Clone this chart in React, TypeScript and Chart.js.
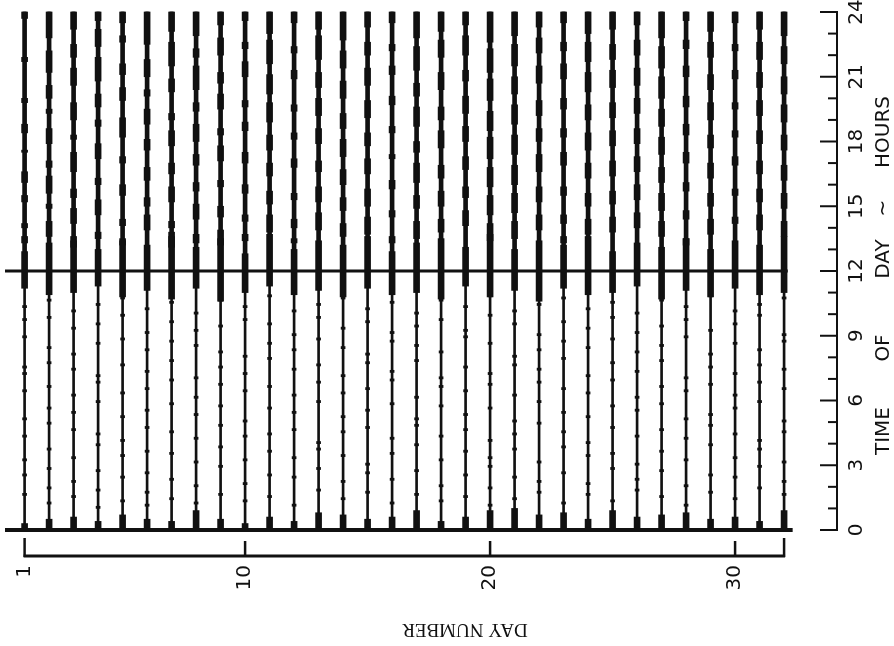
import React, { useEffect, useRef } from "react";
import { Chart, registerables } from "chart.js";

Chart.register(...registerables);

const INK = "#111111";

const dayNumbers = [1, 2, 3, 4, 5, 6, 7, 8, 9, 10, 11, 12, 13, 14, 15, 16, 17, 18, 19, 20, 21, 22, 23, 24, 25, 26, 27, 28, 29, 30, 31, 32];

const dayTickValues = [1, 10, 20, 30, 32];
const dayTickLabels = ["1", "10", "20", "30", ""];

const hourTicks = [0, 1, 2, 3, 4, 5, 6, 7, 8, 9, 10, 11, 12, 13, 14, 15, 16, 17, 18, 19, 20, 21, 22, 23, 24];
const hourLabelValues = [0, 3, 6, 9, 12, 15, 18, 21, 24];
const hourLabels = ["0", "3", "6", "9", "12", "15", "18", "21", "24"];

const xTitle = "DAY NUMBER";
const yTitleWords = ["TIME", "OF", "DAY", "~", "HOURS"];

// afternoon / evening activity bouts [start hour, end hour], one list per day
const upperBouts = [
  [[23.7, 24], [21.7, 21.9], [19.8, 20.0], [18.4, 18.8], [17.5, 17.6], [16.1, 16.6], [15.2, 15.5], [14.0, 14.2], [13.3, 13.6]],
  [[22.8, 24], [21.2, 22.2], [20.0, 20.6], [19.3, 19.5], [17.9, 18.6], [16.8, 17.1], [15.6, 16.4], [14.9, 15.1], [13.6, 14.3]],
  [[23.2, 24], [21.9, 22.5], [20.6, 21.4], [19.0, 19.8], [18.1, 18.3], [16.6, 17.5], [15.4, 15.8], [14.2, 14.9], [13.1, 13.4]],
  [[23.6, 24], [22.4, 23.2], [20.8, 21.9], [19.6, 20.2], [18.7, 19.0], [17.2, 17.9], [16.0, 16.3], [14.6, 15.3], [13.5, 13.8]],
  [[23.5, 24], [22.6, 22.9], [21.1, 21.6], [19.9, 20.5], [18.2, 19.1], [17.0, 17.3], [15.5, 16.0], [14.1, 14.4], [13.2, 13.5]],
  [[22.5, 24], [21.0, 21.8], [20.1, 20.4], [18.8, 19.5], [17.6, 18.1], [16.2, 16.8], [15.0, 15.4], [13.9, 14.6]],
  [[23.1, 24], [21.5, 22.6], [20.3, 20.9], [19.0, 19.3], [17.8, 18.5], [16.5, 17.0], [15.2, 15.9], [14.0, 14.3], [13.1, 13.6]],
  [[22.9, 24], [21.9, 22.3], [20.4, 21.5], [19.4, 19.8], [18.0, 18.8], [16.9, 17.4], [15.7, 16.1], [14.4, 15.1], [13.3, 13.7]],
  [[23.4, 24], [22.0, 22.8], [20.7, 21.2], [19.5, 20.2], [18.3, 18.6], [17.1, 17.8], [15.9, 16.2], [14.5, 15.0], [13.2, 13.9]],
  [[23.6, 24], [22.3, 22.6], [21.0, 21.7], [19.6, 19.9], [18.5, 18.9], [17.0, 17.5], [15.6, 16.0], [14.3, 14.6], [13.4, 13.7]],
  [[23.0, 24], [21.6, 22.7], [20.2, 21.1], [18.9, 19.8], [17.6, 18.3], [16.4, 17.0], [15.1, 15.7], [13.8, 14.6]],
  [[23.5, 24], [22.1, 22.4], [20.9, 21.3], [19.4, 19.7], [18.1, 18.4], [16.8, 17.2], [15.3, 15.6], [14.0, 14.4], [13.3, 13.5]],
  [[23.2, 24], [21.8, 22.9], [20.5, 21.2], [19.2, 20.0], [17.9, 18.6], [16.6, 17.1], [15.2, 15.9], [13.9, 14.7]],
  [[22.7, 24], [21.4, 22.2], [20.0, 20.8], [18.6, 19.3], [17.3, 18.1], [16.0, 16.7], [14.8, 15.4], [13.6, 14.2]],
  [[23.3, 24], [22.0, 22.6], [20.6, 21.4], [19.1, 19.9], [17.8, 18.4], [16.5, 17.2], [15.0, 15.8], [13.7, 14.5]],
  [[23.5, 24], [22.2, 22.5], [21.1, 21.5], [19.7, 20.1], [18.4, 18.7], [17.2, 17.4], [15.8, 16.2], [14.5, 14.8], [13.3, 13.6]],
  [[22.8, 24], [21.3, 22.4], [20.1, 20.7], [18.7, 19.6], [17.5, 18.0], [16.1, 17.0], [14.9, 15.5], [13.5, 14.3]],
  [[23.1, 24], [21.9, 22.7], [20.4, 21.2], [19.0, 19.6], [17.7, 18.5], [16.3, 16.9], [15.0, 15.7], [13.8, 14.4]],
  [[23.4, 24], [22.0, 22.9], [20.8, 21.3], [19.3, 20.1], [18.0, 18.7], [16.7, 17.3], [15.4, 15.9], [14.1, 14.8]],
  [[22.6, 24], [21.2, 22.3], [19.9, 20.9], [18.5, 19.4], [17.2, 18.2], [15.9, 16.8], [14.6, 15.5], [13.4, 14.2]],
  [[22.9, 24], [21.5, 22.5], [20.2, 21.0], [18.8, 19.7], [17.4, 18.3], [16.0, 16.9], [14.7, 15.6], [13.5, 14.3]],
  [[23.3, 24], [22.1, 22.8], [20.7, 21.5], [19.2, 19.9], [18.0, 18.6], [16.6, 17.4], [15.2, 15.9], [13.9, 14.6]],
  [[23.5, 24], [22.2, 22.6], [20.9, 21.6], [19.5, 20.0], [18.2, 18.6], [16.9, 17.5], [15.5, 15.9], [14.2, 14.6], [13.3, 13.6]],
  [[23.0, 24], [21.7, 22.6], [20.3, 21.2], [19.0, 19.7], [17.6, 18.4], [16.3, 17.0], [15.0, 15.6], [13.7, 14.4]],
  [[23.2, 24], [21.8, 22.5], [20.5, 21.3], [19.1, 19.8], [17.8, 18.5], [16.4, 17.1], [15.1, 15.7], [13.8, 14.5]],
  [[23.4, 24], [22.0, 22.7], [20.6, 21.4], [19.3, 20.0], [17.9, 18.6], [16.6, 17.3], [15.3, 16.0], [14.0, 14.7]],
  [[22.8, 24], [21.4, 22.4], [20.0, 21.0], [18.7, 19.5], [17.4, 18.2], [16.1, 16.8], [14.8, 15.6], [13.6, 14.3]],
  [[23.6, 24], [22.3, 22.7], [21.0, 21.5], [19.6, 20.1], [18.3, 18.8], [17.0, 17.5], [15.7, 16.1], [14.4, 14.8], [13.2, 13.5]],
  [[23.1, 24], [21.9, 22.6], [20.4, 21.1], [19.0, 19.8], [17.7, 18.3], [16.3, 17.0], [15.0, 15.6], [13.7, 14.4]],
  [[23.5, 24], [22.2, 22.5], [20.9, 21.3], [19.5, 19.8], [18.2, 18.5], [16.9, 17.3], [15.5, 15.8], [14.2, 14.5]],
  [[23.2, 24], [21.8, 22.6], [20.5, 21.2], [19.2, 19.9], [17.9, 18.5], [16.5, 17.1], [15.2, 15.8], [13.9, 14.6]],
  [[22.9, 24], [21.6, 22.4], [20.2, 21.0], [18.9, 19.7], [17.6, 18.3], [16.2, 16.9], [14.9, 15.6], [13.6, 14.3]],
];

// mid-day activity bout [start, end], one per day
const noonBouts = [
  [11.2, 12.9], [10.9, 13.3], [11.0, 13.6], [11.3, 13.0], [10.8, 13.4], [11.1, 13.2], [10.7, 13.8], [11.2, 13.1],
  [10.6, 13.5], [11.0, 12.8], [11.3, 13.7], [10.9, 13.0], [11.1, 13.4], [10.8, 13.2], [11.2, 13.6], [10.9, 12.9],
  [11.0, 13.3], [10.7, 13.5], [11.3, 13.1], [10.8, 13.7], [11.1, 13.0], [10.6, 13.4], [11.2, 13.2], [10.9, 13.6],
  [11.0, 12.9], [11.3, 13.3], [10.7, 13.1], [11.1, 13.5], [10.8, 13.0], [11.2, 13.4], [10.9, 13.2], [11.0, 13.6],
];

// end of the burst just after midnight, per day
const midnightEnds = [0.3, 0.5, 0.6, 0.4, 0.7, 0.5, 0.4, 0.9, 0.5, 0.3, 0.6, 0.4, 0.8, 0.7, 0.5, 0.6, 0.9, 0.4, 0.6, 0.9, 1.0, 0.7, 0.8, 0.5, 0.9, 0.6, 0.7, 0.8, 0.5, 0.6, 0.4, 0.9];

// scattered brief movements in the early hours, per day
const lowerTicks = [
  [10.3, 9.7, 8.9, 7.2, 7.5, 6.4, 5.1, 4.3, 3.2, 2.5, 1.6],
  [10.6, 9.8, 8.4, 7.7, 6.6, 5.6, 4.9, 3.7, 2.8, 1.9, 1.2],
  [10.1, 9.3, 8.1, 7.4, 6.2, 5.4, 4.6, 3.3, 2.2, 1.5],
  [10.4, 9.5, 8.6, 7.1, 6.8, 5.9, 4.4, 3.9, 2.7, 1.8, 1.0],
  [10.7, 9.9, 8.8, 7.6, 6.3, 5.2, 4.1, 3.4, 2.4, 1.3],
  [10.2, 9.1, 8.3, 7.3, 6.5, 5.5, 4.7, 3.6, 2.6, 1.7, 1.1],
  [10.5, 9.6, 8.7, 7.8, 6.9, 5.8, 4.5, 3.5, 2.3, 1.4],
  [10.0, 9.2, 8.5, 7.0, 6.1, 5.3, 4.2, 3.1, 2.0, 1.2],
  [10.6, 9.4, 8.2, 7.5, 6.7, 5.7, 4.8, 3.8, 2.9, 1.6],
  [10.3, 9.7, 8.0, 7.2, 6.4, 5.0, 4.3, 3.2, 2.1, 1.3],
  [10.8, 9.5, 8.6, 7.9, 6.6, 5.6, 4.4, 3.6, 2.5, 1.5],
  [10.1, 9.0, 8.3, 7.4, 6.2, 5.4, 4.6, 3.3, 2.4, 1.1],
  [10.4, 9.8, 8.8, 7.6, 6.8, 5.9, 4.0, 3.7, 2.8, 1.8],
  [10.7, 9.3, 8.4, 7.1, 6.3, 5.2, 4.5, 3.4, 2.2, 1.4],
  [10.2, 9.6, 8.1, 7.7, 6.5, 5.5, 4.7, 3.0, 2.6, 1.7],
  [10.5, 9.1, 8.7, 7.3, 6.9, 5.8, 4.2, 3.5, 2.3, 1.2],
  [10.0, 9.4, 8.5, 7.8, 6.1, 5.1, 4.8, 3.9, 2.7, 1.6],
  [10.6, 9.7, 8.2, 7.0, 6.6, 5.7, 4.3, 3.2, 2.0, 1.3],
  [10.3, 9.2, 8.9, 7.5, 6.4, 5.3, 4.6, 3.6, 2.5, 1.5],
  [10.8, 9.9, 8.6, 7.2, 6.7, 5.6, 4.1, 3.3, 2.9, 1.9, 1.1],
  [10.1, 9.5, 8.0, 7.6, 6.2, 5.0, 4.4, 3.7, 2.4, 1.4],
  [10.4, 9.0, 8.3, 7.4, 6.8, 5.9, 4.9, 3.1, 2.2, 1.7],
  [10.7, 9.6, 8.7, 7.9, 6.5, 5.4, 4.5, 3.8, 2.6, 1.2],
  [10.2, 9.3, 8.4, 7.1, 6.3, 5.2, 4.0, 3.4, 2.1, 1.6],
  [10.5, 9.8, 8.8, 7.7, 6.9, 5.7, 4.7, 3.5, 2.8, 1.3],
  [10.0, 9.1, 8.2, 7.3, 6.1, 5.5, 4.3, 3.0, 2.3, 1.8],
  [10.6, 9.4, 8.5, 7.8, 6.6, 5.8, 4.6, 3.6, 2.7, 1.5],
  [10.3, 9.7, 8.9, 7.0, 6.4, 5.1, 4.2, 3.2, 2.0, 1.1],
  [10.8, 9.2, 8.1, 7.5, 6.7, 5.3, 4.8, 3.9, 2.5, 1.7],
  [10.1, 9.5, 8.6, 7.2, 6.2, 5.6, 4.4, 3.3, 2.4, 1.4],
  [10.4, 9.9, 8.3, 7.6, 6.8, 5.9, 4.1, 3.7, 2.9, 1.9],
  [10.7, 9.0, 8.7, 7.4, 6.5, 5.0, 4.5, 3.1, 2.2, 1.6],
];

const TICK_SPAN = 0.1; // duration drawn for a brief movement, hours

const customAxes = {
  id: "customAxes",
  afterDraw(chart: any) {
    const { ctx, chartArea, scales } = chart;
    const x = scales.x;
    const y = scales.y;
    const seg = (x1: number, y1: number, x2: number, y2: number, w: number) => {
      ctx.lineWidth = w;
      ctx.beginPath();
      ctx.moveTo(x1, y1);
      ctx.lineTo(x2, y2);
      ctx.stroke();
    };
    ctx.save();
    ctx.strokeStyle = INK;
    ctx.fillStyle = INK;
    ctx.lineCap = "butt";

    // right-hand time-of-day axis
    const ax = chartArea.right;
    seg(ax, y.getPixelForValue(0) + 1, ax, y.getPixelForValue(24) - 1, 2);
    hourTicks.forEach((h) => {
      const py = y.getPixelForValue(h);
      const len = h % 3 === 0 ? 17 : 9;
      seg(ax - len, py, ax, py, 2);
    });
    ctx.font = '20px "DejaVu Sans"';
    ctx.textAlign = "center";
    ctx.textBaseline = "middle";
    hourLabelValues.forEach((h, i) => {
      ctx.save();
      ctx.translate(ax + 20, y.getPixelForValue(h));
      ctx.rotate(-Math.PI / 2);
      ctx.fillText(hourLabels[i], 0, 0);
      ctx.restore();
    });
    const titleY = [431, 348, 259, 208, 132];
    yTitleWords.forEach((w, i) => {
      ctx.save();
      ctx.translate(ax + 47, titleY[i]);
      ctx.rotate(-Math.PI / 2);
      ctx.fillText(w, 0, 0);
      ctx.restore();
    });

    // bottom day-number bracket
    const by = chartArea.bottom + 26;
    const xFirst = x.getPixelForValue(dayTickValues[0]);
    const xLast = x.getPixelForValue(dayTickValues[dayTickValues.length - 1]);
    seg(xFirst - 1, by, xLast + 1, by, 3);
    seg(xFirst, by + 1, xFirst, by - 18, 2.5);
    seg(xLast, by + 1, xLast, by - 18, 2.5);
    dayTickValues.forEach((d, i) => {
      const px = x.getPixelForValue(d);
      if (i > 0 && i < dayTickValues.length - 1) seg(px, by, px, by - 15, 2.5);
      const lab = dayTickLabels[i];
      if (!lab) return;
      ctx.save();
      ctx.translate(px, chartArea.bottom + 35);
      ctx.rotate(-Math.PI / 2);
      ctx.textAlign = "right";
      ctx.textBaseline = "middle";
      ctx.font = '20px "DejaVu Sans"';
      ctx.fillText(lab, 0, 0);
      ctx.restore();
    });

    // upside-down x title
    ctx.save();
    ctx.translate(465, 629);
    ctx.rotate(Math.PI);
    ctx.font = '19px "Liberation Serif"';
    ctx.textAlign = "center";
    ctx.textBaseline = "middle";
    ctx.fillText(xTitle, 0, 0);
    ctx.restore();

    ctx.restore();
  },
};

function barSet(data: any[], thickness: number) {
  return {
    type: "bar" as const,
    data,
    backgroundColor: INK,
    borderWidth: 0,
    borderSkipped: false,
    grouped: false,
    barThickness: thickness,
    maxBarThickness: thickness,
    clip: false,
  };
}

export default function App() {
  const ref = useRef<HTMLCanvasElement | null>(null);

  useEffect(() => {
    if (!ref.current) return;
    const dayLineData = dayNumbers.map((d) => ({ x: d, y: [0, 24] }));
    const upperBandData = dayNumbers.map((d) => ({ x: d, y: [12.6, 24] }));
    const upperData = dayNumbers.flatMap((d, i) => upperBouts[i].map((b) => ({ x: d, y: b })));
    const noonData = dayNumbers.map((d, i) => ({ x: d, y: noonBouts[i] }));
    const midnightData = dayNumbers.map((d, i) => ({ x: d, y: [0, midnightEnds[i]] }));
    const lowerData = dayNumbers.flatMap((d, i) => lowerTicks[i].map((h) => ({ x: d, y: [h, h + TICK_SPAN] })));

    const chart = new Chart(ref.current, {
      type: "bar",
      data: {
        datasets: [
          {
            type: "line",
            data: [{ x: 0.2, y: 0 }, { x: 32.35, y: 0 }],
            borderColor: INK,
            borderWidth: 4,
            pointRadius: 0,
            clip: false,
          } as any,
          {
            type: "line",
            data: [{ x: 0.2, y: 12 }, { x: 32.15, y: 12 }],
            borderColor: INK,
            borderWidth: 3,
            pointRadius: 0,
            clip: false,
          } as any,
          barSet(dayLineData, 2),
          barSet(upperBandData, 4),
          barSet(upperData, 6),
          barSet(noonData, 6),
          barSet(midnightData, 6),
          barSet(lowerData, 4),
        ],
      },
      options: {
        responsive: false,
        animation: false,
        layout: { padding: { left: 5, top: 12, right: 57, bottom: 116 } },
        plugins: { legend: { display: false }, tooltip: { enabled: false } },
        scales: {
          x: { type: "linear", min: 0.2, max: 34.16, offset: false, display: false },
          y: { type: "linear", min: 0, max: 24, display: false },
        },
      },
      plugins: [customAxes],
    });
    return () => chart.destroy();
  }, []);

  return (
    <div style={{ position: "absolute", left: 0, top: 0, width: 894, height: 646, background: "#fff" }}>
      <canvas ref={ref} width={894} height={646} />
    </div>
  );
}
